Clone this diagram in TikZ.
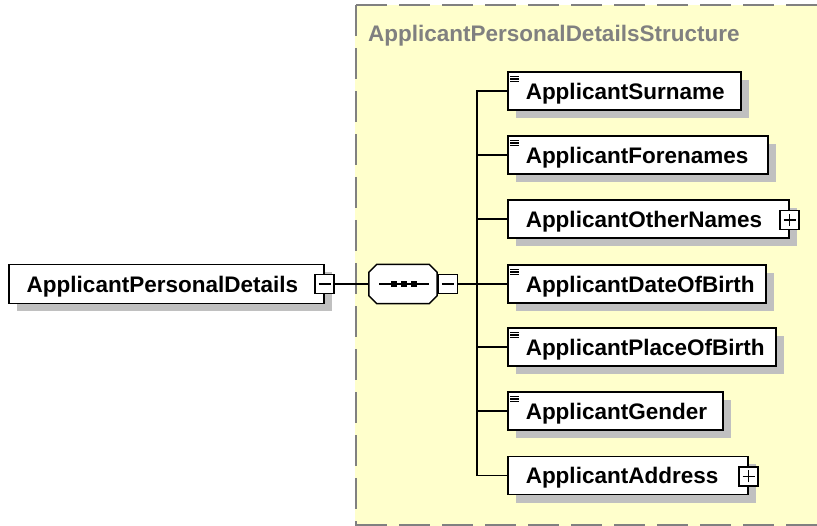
\documentclass[tikz,border=0pt]{standalone}
\usepackage{fontspec}
\setmainfont{Liberation Sans}
\usetikzlibrary{shadows}
\definecolor{bgyellow}{HTML}{FFFFCC}
\definecolor{shade}{HTML}{C0C0C0}
\definecolor{bordergray}{HTML}{808080}
\definecolor{titlegray}{HTML}{808080}
\begin{document}
\begin{tikzpicture}[x=1pt,y=-1pt,
  shadowed/.style={drop shadow={shadow xshift=8pt,shadow yshift=-8pt,fill=shade,opacity=1}},
  elbox/.style={draw,line width=1.5pt,fill=white,shadowed,anchor=west,
    inner xsep=18pt,inner ysep=0pt,minimum height=38pt,align=left,
    text width=#1,text height=20.5pt,text depth=3.5pt,
    font=\bfseries\fontsize{22.5}{24}\selectfont},
  pm/.style={draw,fill=white,line width=1.2pt,minimum size=19pt,inner sep=0pt},
  sign/.style={line width=1.2pt},
  conn/.style={line width=1.5pt},
  icon/.style={line width=1.2pt},
  region/.style={bordergray,line width=2pt,dash pattern=on 31pt off 12pt},
  titletext/.style={titlegray,anchor=base west,inner sep=0pt,font=\bfseries\fontsize{22.5}{24}\selectfont}
]
\useasboundingbox (0,0) rectangle (817,526);
% structure region
\fill[bgyellow] (355,5) rectangle (830,526);
\draw[region] (356,5) -- (830,5);
\draw[region] (356,5) -- (356,526);
\draw[region] (356,525) -- (830,525);
\node[titletext] (title) at (368,42) {ApplicantPersonalDetailsStructure};

% root element
\node[elbox=279pt,minimum height=39pt] (root) at (8,284) {ApplicantPersonalDetails};
\node[pm] (m1) at (root.east) {};
\draw[sign] ([xshift=-6pt]m1.center) -- ([xshift=6pt]m1.center);

% sequence compositor (octagon)
\node[minimum width=68pt,minimum height=39pt,inner sep=0pt] (seq) at (403,284) {};
\fill[shade,shift={(10,10)}]
  ([xshift=8pt]seq.north west) -- ([xshift=-8pt]seq.north east) -- ([yshift=-8pt]seq.north east)
  -- ([yshift=8pt]seq.south east) -- ([xshift=-8pt]seq.south east) -- ([xshift=8pt]seq.south west)
  -- ([yshift=8pt]seq.south west) -- ([yshift=-8pt]seq.north west) -- cycle;
\draw[line width=1.5pt,fill=white]
  ([xshift=8pt]seq.north west) -- ([xshift=-8pt]seq.north east) -- ([yshift=-8pt]seq.north east)
  -- ([yshift=8pt]seq.south east) -- ([xshift=-8pt]seq.south east) -- ([xshift=8pt]seq.south west)
  -- ([yshift=8pt]seq.south west) -- ([yshift=-8pt]seq.north west) -- cycle;
\draw[line width=1.5pt] ([xshift=-24pt]seq.center) -- ([xshift=26pt]seq.center);
\foreach \dx in {-9,1,11}
  \fill ([xshift=\dx pt]seq.center) ++(-2.6,-2.6) rectangle ++(5.2,5.2);
\node[pm,anchor=west] (m2) at ([xshift=0.5pt]seq.east) {};
\draw[sign] ([xshift=-6pt]m2.center) -- ([xshift=6pt]m2.center);

% child elements
\node[elbox=197pt] (e1) at (507,91) {ApplicantSurname};
\node[elbox=224pt] (e2) at (507,155) {ApplicantForenames};
\node[elbox=245pt] (e3) at (507,219) {ApplicantOtherNames};
\node[elbox=222pt] (e4) at (507,284) {ApplicantDateOfBirth};
\node[elbox=232pt] (e5) at (507,347) {ApplicantPlaceOfBirth};
\node[elbox=179pt] (e6) at (507,411) {ApplicantGender};
\node[elbox=204pt] (e7) at (507,475.5) {ApplicantAddress};

% simple-content icons
\foreach \e in {e1,e2,e4,e5,e6}
  \foreach \d in {5,7.7,10.4}
    \draw[icon] ([xshift=3pt,yshift=-\d pt]\e.north west) -- ++(9,0);

% expand boxes
\node[pm] (p3) at ([yshift=-1pt]e3.east) {};
\draw[sign] ([xshift=-6pt]p3.center) -- ([xshift=6pt]p3.center);
\draw[sign] ([yshift=-6pt]p3.center) -- ([yshift=6pt]p3.center);
\node[pm] (p7) at ([yshift=-1pt]e7.east) {};
\draw[sign] ([xshift=-6pt]p7.center) -- ([xshift=6pt]p7.center);
\draw[sign] ([yshift=-6pt]p7.center) -- ([yshift=6pt]p7.center);

% connectors
\coordinate (hub) at (477,284);
\draw[conn] (m1.east) -- (seq.west);
\draw[conn] (m2.east) -- (hub);
\draw[conn] (e1.west) -- (e1.west -| hub) -- (e7.west -| hub) -- (e7.west);
\foreach \e in {e2,e3,e4,e5,e6}
  \draw[conn] (\e.west) -- (\e.west -| hub);
\end{tikzpicture}
\end{document}
